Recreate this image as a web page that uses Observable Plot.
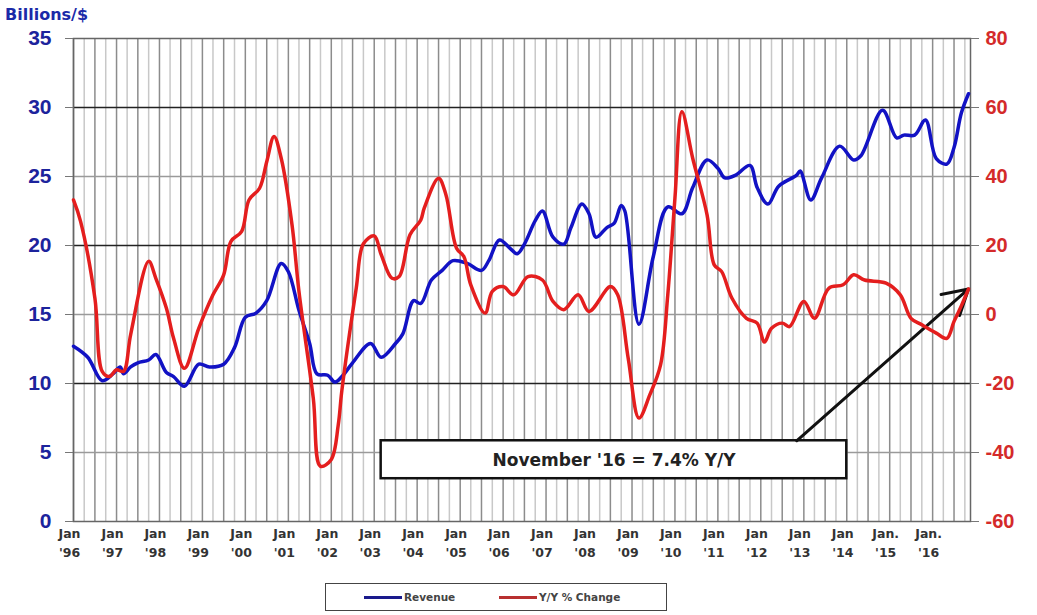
<!DOCTYPE html>
<html>
<head>
<meta charset="utf-8">
<script src="https://cdn.jsdelivr.net/npm/d3@7"></script>
<script src="https://cdn.jsdelivr.net/npm/@observablehq/plot@0.6"></script>
<style>
  body { margin: 0; background: #fff; font-family: "Liberation Sans", Arial, sans-serif; }
  #wrap { position: relative; width: 1037px; height: 615px; overflow: hidden; }
  #ytitle { position: absolute; left: 5px; top: 5px; font: bold 16px "DejaVu Sans", sans-serif; color: #1b2aa8; }
  #chart { position: absolute; left: 0; top: 24px; }
  #legend { position: absolute; left: 325px; top: 583px; width: 342px; height: 28px; border: 1.5px solid #444; box-sizing: border-box; background: #fff; }
  .key { position: absolute; top: 5px; font: bold 10.5px "DejaVu Sans", sans-serif; color: #444; display: flex; align-items: center; height: 16px; }
  .swatch { display: inline-block; width: 38px; height: 3px; margin-right: 2px; }
</style>
</head>
<body>
<div id="wrap">
  <div id="ytitle">Billions/$</div>
  <div id="chart"></div>
  <div id="legend">
    <div class="key" style="left:38px"><span class="swatch" style="background:#1a1a8c"></span>Revenue</div>
    <div class="key" style="left:173px"><span class="swatch" style="background:#b83030"></span>Y/Y % Change</div>
  </div>
</div>
<script>
// ---- Data ----
// Revenue, billions of dollars (left axis)
const revenueMonths = ["1996-01","1996-05","1996-09","1996-12","1997-02","1997-03","1997-05","1997-07","1997-10","1997-12",
  "1998-03","1998-05","1998-08","1998-12","1999-03","1999-07","1999-10","2000-01","2000-04","2000-07","2000-11",
  "2001-01","2001-04","2001-07","2001-09","2001-12","2002-02","2002-04","2002-07","2002-12","2003-03","2003-07",
  "2003-09","2003-12","2004-02","2004-05","2004-08","2004-11","2005-03","2005-07","2005-09","2005-12","2006-03",
  "2006-05","2006-07","2006-10","2006-12","2007-03","2007-06","2007-08","2007-11","2008-01","2008-03","2008-06",
  "2008-08","2008-10","2008-11","2009-03","2009-07","2009-11","2010-03","2010-06","2010-10","2011-01","2011-03",
  "2011-06","2011-10","2011-12","2012-03","2012-06","2012-11","2012-12","2013-03","2013-06","2013-11","2014-03",
  "2014-05","2014-11","2015-03","2015-05","2015-08","2015-11","2016-02","2016-05","2016-07","2016-09","2016-11"];
const revenueValues = [12.7,11.9,10.2,10.7,11.2,10.7,11.2,11.5,11.7,12.1,
  10.8,10.5,9.8,11.4,11.2,11.4,12.6,14.8,15.1,16.0,18.7,
  18.1,15.3,12.9,10.7,10.6,10.1,10.5,11.5,12.9,11.9,12.9,
  13.6,16.0,15.8,17.5,18.2,18.9,18.7,18.2,18.9,20.4,19.8,
  19.4,20.1,21.8,22.5,20.6,20.1,21.3,23.0,22.3,20.6,21.3,
  21.6,22.9,22.5,14.3,19.2,22.8,22.3,24.2,26.2,25.6,24.9,
  25.1,25.8,24.2,23.0,24.3,25.1,25.4,23.3,24.9,27.2,26.2,
  26.5,29.8,27.8,28.0,28.0,29.1,26.3,25.9,27.1,29.6,31.0];

// Y/Y % change (right axis)
const yoyMonths = ["1996-01","1996-03","1996-07","1996-09","1996-11","1997-01","1997-03","1997-05","1997-10","1997-12",
  "1998-03","1998-05","1998-08","1998-12","1999-04","1999-07","1999-09","1999-12","2000-02","2000-05","2000-07",
  "2000-09","2000-11","2001-02","2001-04","2001-08","2001-10","2002-01","2002-03","2002-04","2002-08","2002-10",
  "2003-01","2003-03","2003-06","2003-08","2003-11","2004-02","2004-03","2004-07","2004-09","2004-12","2005-02",
  "2005-04","2005-08","2005-10","2006-01","2006-04","2006-08","2006-12","2007-03","2007-06","2007-10","2008-01",
  "2008-07","2008-09","2008-12","2009-03","2009-06","2009-09","2009-11","2010-01","2010-03","2010-06","2010-10",
  "2010-12","2011-02","2011-05","2011-09","2011-12","2012-02","2012-04","2012-07","2012-09","2013-01","2013-04",
  "2013-08","2013-12","2014-03","2014-06","2014-12","2015-04","2015-07","2015-10","2016-02","2016-05","2016-07","2016-09","2016-11"];
const yoyValues = [33.2,27,4.7,-16.5,-18,-16,-16.5,-5.8,15.4,10.5,
  1.8,-6.9,-15.6,-4,5.7,11.5,21.2,24.1,33.2,36.6,44.3,
  51.6,45.3,26,6.7,-24.3,-44,-42,-32,-22,7.6,20.5,
  22.8,17.4,10.5,11,23.1,27.4,30.8,39.5,34.8,19.2,16.8,
  8.6,0.4,6.7,8.1,5.7,11,10,3.8,1.4,5.7,0.9,
  8.1,5.7,-13,-30,-23.3,-14.5,5.7,33.7,58.8,45.3,28.9,
  14.4,12.5,4.7,-1.1,-2.5,-8,-4,-2.5,-3.5,3.8,-1.1,
  7.6,8.6,11.5,10,9.1,5.7,-1.1,-3,-5.4,-6.9,-2,2.5,7.4];

// Axis ticks
const leftTicks = [0,5,10,15,20,25,30,35];
const rightTicks = [-60,-40,-20,0,20,40,60,80];
const yearLabels = d3.range(1996, 2017);

// Callout annotation
const calloutText = "November '16 = 7.4% Y/Y";
const calloutTarget = {month: "2016-11", yoy: 7.4};

// ---- Build ----
const parse = d3.utcParse("%Y-%m");
const toLeft = r => (r + 60) / 4;        // right axis (-60..80) -> left axis (0..35)
const fromLeft = v => v * 4 - 60;

const revenue = revenueMonths.map((m, i) => ({date: parse(m), value: revenueValues[i]}));
const yoy = yoyMonths.map((m, i) => ({date: parse(m), value: toLeft(yoyValues[i])}));

const start = new Date(Date.UTC(1996, 0, 1));
const end = new Date(Date.UTC(2016, 10, 18));
const quarters = d3.utcMonth.every(3).range(start, end);
const qDark = quarters.filter((d, i) => i % 2 === 0);
const qLight = quarters.filter((d, i) => i % 2 === 1);
const yearTicks = yearLabels.map(y => new Date(Date.UTC(y, 0, 1)));

const box = {
  x1: parse("2003-03"), x2: parse("2014-01"),
  y1: 3.1, y2: 5.85,
  xm: parse("2008-08"), ym: 4.45,
  ax: parse("2012-11"), ay: 5.85,
  bx: parse(calloutTarget.month), by: toLeft(calloutTarget.yoy)
};

const fontAxis = "Liberation Sans, Arial, sans-serif";

const chart = Plot.plot({
  width: 1037,
  height: 546,
  marginTop: 14,
  marginBottom: 49,
  marginLeft: 73,
  marginRight: 67,
  style: {background: "#fff", fontFamily: fontAxis, overflow: "visible"},
  x: {type: "utc", domain: [start, end]},
  y: {domain: [0, 35]},
  marks: [
    Plot.ruleX(qLight, {stroke: "#c8c8c8", strokeWidth: 1.5}),
    Plot.ruleX(qDark, {stroke: "#8c8c8c", strokeWidth: 1.5}),
    Plot.ruleY([5, 15, 25], {stroke: "#9a9a9a", strokeWidth: 1.5}),
    Plot.ruleY([10, 20, 30], {stroke: "#222", strokeWidth: 1.5}),
    Plot.frame({stroke: "#666", strokeWidth: 1.5}),
    Plot.axisY({
      anchor: "left", ticks: leftTicks, tickSize: 8, tickPadding: 14,
      label: null, fontSize: 21, fontWeight: "bold", fill: "#1c239c", stroke: "#777"
    }),
    Plot.axisY({
      anchor: "right", ticks: rightTicks.map(toLeft), tickFormat: v => String(fromLeft(v)),
      tickSize: 8, tickPadding: 7,
      label: null, fontSize: 20, fontWeight: "bold", fill: "#d42a2a", stroke: "#777"
    }),
    Plot.axisX({
      ticks: yearTicks, tickSize: 0, tickPadding: 3, dx: -4,
      tickFormat: d => {
        const y = d.getUTCFullYear();
        return (y >= 2015 ? "Jan." : "Jan") + "\n'" + String(y).slice(2);
      },
      label: null, fontSize: 12.5, fontWeight: "bold", fill: "#333", lineHeight: 1.5,
      fontFamily: "DejaVu Sans, sans-serif"
    }),
    Plot.rect([box], {x1: "x1", x2: "x2", y1: "y1", y2: "y2", fill: "#fff", stroke: "#111", strokeWidth: 2.5}),
    Plot.text([box], {x: "xm", y: "ym", text: () => calloutText, fontSize: 17, fontWeight: "bold",
      fill: "#222", fontFamily: "DejaVu Sans, sans-serif"}),
    Plot.arrow([box], {x1: "ax", y1: "ay", x2: "bx", y2: "by", stroke: "#111", strokeWidth: 3, headLength: 14}),
    Plot.line(revenue, {x: "date", y: "value", stroke: "#1212c4", strokeWidth: 3.5, curve: "catmull-rom"}),
    Plot.line(yoy, {x: "date", y: "value", stroke: "#e41e1e", strokeWidth: 3.5, curve: "catmull-rom"})
  ]
});
document.getElementById("chart").appendChild(chart);
</script>
</body>
</html>
